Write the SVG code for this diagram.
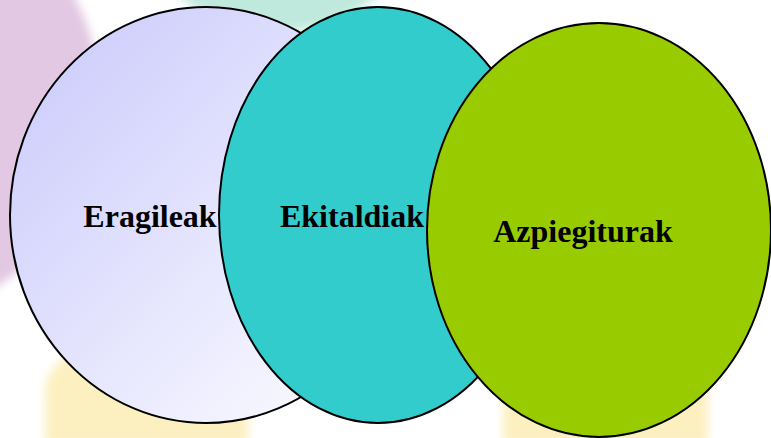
<svg xmlns="http://www.w3.org/2000/svg" width="771" height="438" viewBox="0 0 771 438">
<style>
.node ellipse{stroke:#000;stroke-width:2}
.lbl{font-family:"Liberation Serif","Times New Roman",serif;font-weight:bold;font-size:32px;fill:#000;text-anchor:middle}
</style>
<defs>
<linearGradient id="g1" x1="0" y1="0" x2="1" y2="1">
<stop offset="0" stop-color="#c8c8fc"/>
<stop offset="1" stop-color="#ffffff"/>
</linearGradient>
<filter id="blur" x="-20%" y="-20%" width="140%" height="140%"><feGaussianBlur stdDeviation="5"/></filter>
</defs>
<rect width="771" height="438" fill="#ffffff"/>
<g id="background" filter="url(#blur)">
<circle cx="-120" cy="100" r="220" fill="#e2c8e2"/>
<circle cx="278" cy="-120" r="152" fill="#c0e9dd"/>
<path d="M45,445 L45,390 Q50,340 150,340 Q245,340 248,390 L248,445 Z" fill="#fdf0c0"/>
<path d="M503,445 L503,360 L708,360 L708,445 Z" fill="#fdf0c0"/>
</g>
<g id="node-eragileak" class="node">
<ellipse cx="206" cy="215" rx="196" ry="208" fill="url(#g1)"/>
<text class="lbl" x="150" y="227">Eragileak</text>
</g>
<g id="node-ekitaldiak" class="node">
<ellipse cx="378" cy="215" rx="159" ry="208" fill="#33cccc"/>
<text class="lbl" x="352" y="227">Ekitaldiak</text>
</g>
<g id="node-azpiegiturak" class="node">
<ellipse cx="599" cy="230" rx="172" ry="207" fill="#99cc00"/>
<text class="lbl" x="583" y="242">Azpiegiturak</text>
</g>
<g id="connectors"></g>
</svg>
